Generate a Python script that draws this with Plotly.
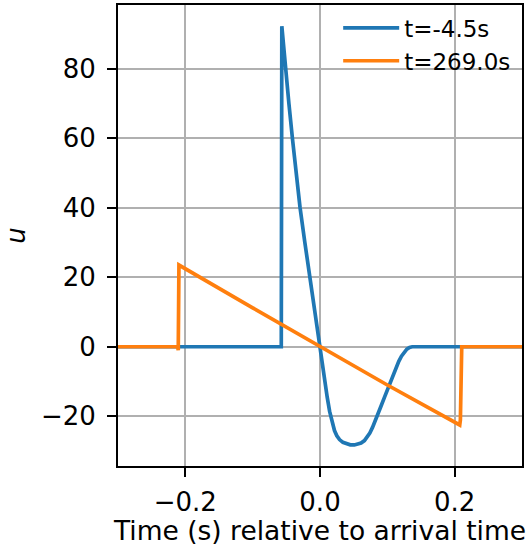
import plotly.graph_objects as go

# Blue series: t = -4.5 s
t_blue = [-0.30, -0.0575, -0.0567, -0.0515, -0.0462, -0.041, -0.0353, -0.0296, -0.0225,
          -0.0153, -0.0077, 0.0, 0.0036, 0.0072, 0.0107, 0.0143, 0.0178, 0.0215, 0.025,
          0.029, 0.034, 0.039, 0.045, 0.051, 0.056, 0.061, 0.066, 0.070, 0.074,
          0.078, 0.082, 0.086, 0.091, 0.096, 0.1005, 0.1047, 0.109, 0.113, 0.117,
          0.121, 0.125, 0.129, 0.133, 0.137, 0.30]
u_blue = [0.0, 0.0, 92.2, 80.0, 70.0, 60.0, 50.0, 40.0, 30.0,
          20.0, 10.0, 0.0, -5.0, -9.9, -14.5, -18.6, -21.8, -24.1, -25.6,
          -26.7, -27.5, -27.95, -28.2, -28.25, -28.1, -27.7, -27.0, -26.1, -24.8,
          -23.2, -21.4, -19.4, -16.9, -14.4, -12.1, -10.0, -7.9, -6.0, -4.2,
          -2.7, -1.5, -0.7, -0.2, 0.0, 0.0]

# Orange series: t = 269.0 s
t_orange = [-0.30, -0.2115, -0.2105, -0.2095, -0.1, 0.0, 0.1, 0.2075, 0.2085, 0.2105, 0.30]
u_orange = [0.0, 0.0, -1.0, 23.5, 11.2, 0.0, -11.0, -22.5, -21.0, 0.0, 0.0]

labels = ["t=-4.5s", "t=269.0s"]
colors = ["#1f77b4", "#ff7f0e"]

x_ticks = [-0.2, 0.0, 0.2]
x_ticktext = ["\u22120.2", "0.0", "0.2"]
y_ticks = [-20, 0, 20, 40, 60, 80]
y_ticktext = ["\u221220", "0", "20", "40", "60", "80"]

font = "DejaVu Sans"
fs = 26

fig = go.Figure()
fig.add_trace(go.Scatter(x=t_blue, y=u_blue, mode="lines", name=labels[0],
                         line=dict(color=colors[0], width=3.7)))
fig.add_trace(go.Scatter(x=t_orange, y=u_orange, mode="lines", name=labels[1],
                         line=dict(color=colors[1], width=3.7)))

axis_common = dict(showline=True, mirror=True, linecolor="black", linewidth=2,
                   ticks="outside", ticklen=9, tickwidth=2, tickcolor="black",
                   showgrid=True, gridcolor="#b0b0b0", gridwidth=2, zeroline=False,
                   automargin=False,
                   tickfont=dict(family=font, size=fs, color="black"))

fig.update_xaxes(range=[-0.3, 0.3], tickvals=x_ticks, ticktext=x_ticktext,
                 ticklabelstandoff=3,
                 title=dict(text="Time (s) relative to arrival time",
                            font=dict(family=font, size=26.5, color="black"), standoff=8),
                 **axis_common)
fig.update_yaxes(range=[-34.3, 98.3], tickvals=y_ticks, ticktext=y_ticktext,
                 ticklabelstandoff=6,
                 title=dict(text="<i>u</i>", font=dict(family=font, size=fs, color="black"),
                            standoff=8),
                 **axis_common)

fig.update_layout(
    width=528, height=546,
    margin=dict(l=118, r=6, t=5, b=80),
    plot_bgcolor="white", paper_bgcolor="white",
    font=dict(family=font, size=fs, color="black"),
    legend=dict(x=0.545, y=0.997, xanchor="left", yanchor="top",
                bgcolor="rgba(0,0,0,0)", borderwidth=0,
                font=dict(family=font, size=23, color="black"),
                tracegroupgap=0, itemwidth=56),
    showlegend=True,
)

fig.write_html("out.html", config={"displayModeBar": False},
               post_script="document.body.style.margin='0';")
